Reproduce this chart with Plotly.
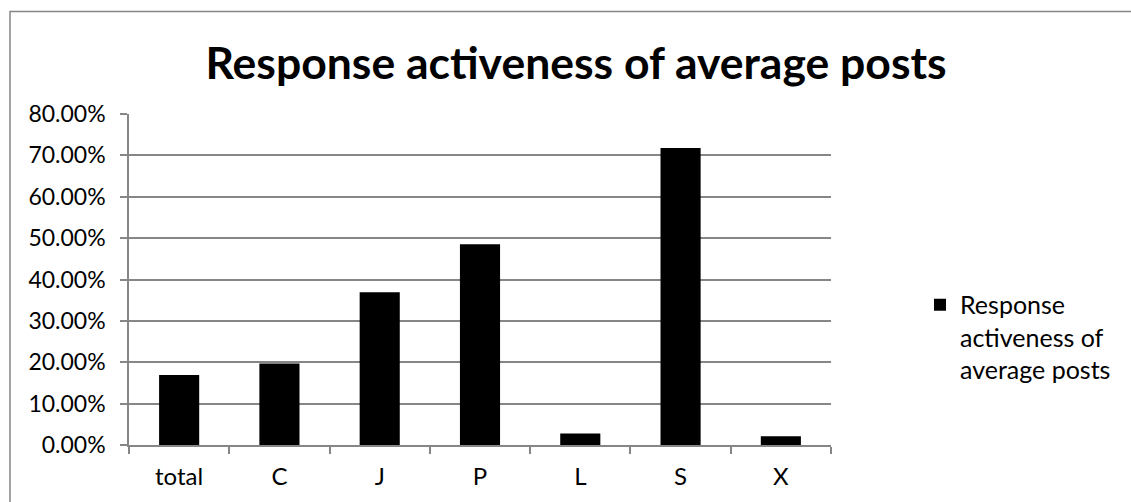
import plotly.graph_objects as go

categories = ["total", "C", "J", "P", "L", "S", "X"]
values = [0.169, 0.197, 0.369, 0.485, 0.028, 0.718, 0.021]
series_name = "Response<br>activeness of<br>average posts"
title_text = "Response activeness of average posts"
y_ticks = [0, 0.1, 0.2, 0.3, 0.4, 0.5, 0.6, 0.7, 0.8]

W, H = 1131, 502
L, R, T, B = 129, 300, 114, 55
pw = W - L - R
ph = H - T - B

def px_x(p):
    return (p - L) / pw

def px_y(p):
    return (H - B - p) / ph

fig = go.Figure()
fig.add_trace(go.Bar(
    x=categories, y=values, name=series_name,
    marker=dict(color="black", line=dict(width=0)),
    showlegend=True,
))

grey = "#868686"
fig.update_layout(
    width=W, height=H,
    margin=dict(l=L, r=R, t=T, b=B),
    paper_bgcolor="white", plot_bgcolor="white",
    font=dict(family="Lato", size=24, color="black"),
    bargap=0.6,
    showlegend=True,
    legend=dict(x=px_x(920), y=px_y(283), xanchor="left", yanchor="top",
                valign="top", font=dict(size=25, family="Lato"), itemwidth=30,
                tracegroupgap=0, bgcolor="rgba(0,0,0,0)"),
    title=dict(text="<b>" + title_text + "</b>", x=576 / W, xanchor="center",
               y=1 - 63 / H, yanchor="middle",
               font=dict(size=44.5, family="Lato", color="black")),
    xaxis=dict(type="category", showline=True, linecolor=grey, linewidth=1.5,
               ticks="outside", tickson="boundaries", ticklen=7, tickcolor=grey,
               tickwidth=1.5, showgrid=False, tickfont=dict(size=24),
               ticklabelstandoff=9),
    yaxis=dict(range=[0, 0.8], tickvals=y_ticks, tickformat=".2%",
               showline=True, linecolor=grey, linewidth=1.5,
               ticks="outside", ticklen=7, tickcolor=grey, tickwidth=1.5,
               showgrid=True, gridcolor=grey, gridwidth=1.5, zeroline=False,
               ticklabelstandoff=10, tickfont=dict(size=23)),
    shapes=[dict(type="rect", xref="paper", yref="paper",
                 x0=px_x(10), x1=px_x(1200), y0=px_y(11), y1=px_y(560),
                 line=dict(color=grey, width=1.5), fillcolor="rgba(0,0,0,0)",
                 layer="below")],
)

fig.write_html("out.html", config={"displayModeBar": False},
               post_script="document.body.style.margin='0';document.body.style.overflow='hidden';")
